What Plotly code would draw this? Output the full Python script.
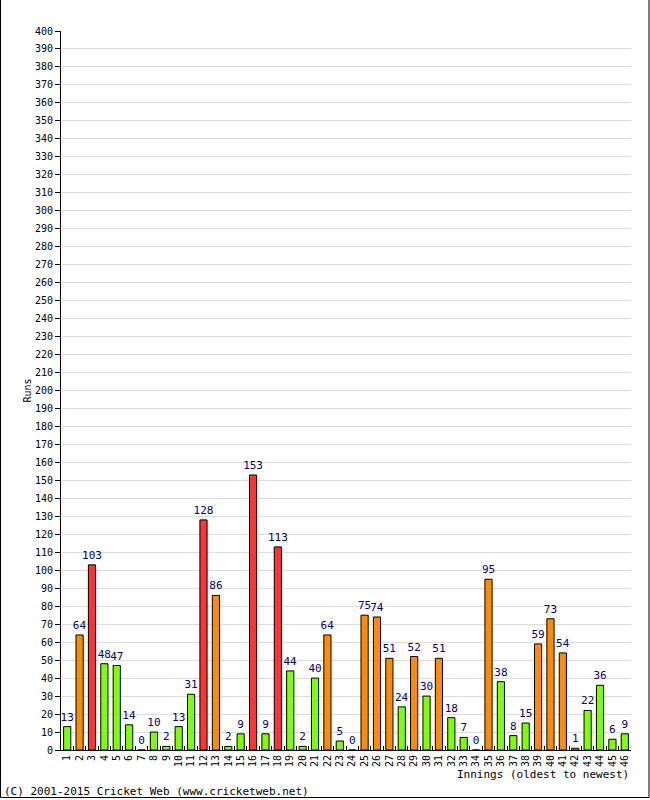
import plotly.graph_objects as go

innings = [str(i) for i in range(1, 47)]
runs = [13, 64, 103, 48, 47, 14, 0, 10, 2, 13, 31, 128, 86, 2, 9, 153, 9, 113, 44, 2,
        40, 64, 5, 0, 75, 74, 51, 24, 52, 30, 51, 18, 7, 0, 95, 38, 8, 15, 59, 73,
        54, 1, 22, 36, 6, 9]
y_ticks = list(range(0, 401, 10))


def bar_colour(v):
    if v >= 100:
        return "#FF3333"
    if v >= 50:
        return "#FF8C00"
    return "#80FF00"


colours = [bar_colour(v) for v in runs]

fig = go.Figure(go.Bar(
    x=innings, y=runs,
    marker=dict(color=colours, line=dict(color="black", width=1)),
    text=[str(v) for v in runs], textposition="outside", constraintext="none",
    textfont=dict(color="#000080", size=11, family="DejaVu Sans Mono"),
    cliponaxis=False,
))

fig.update_layout(
    width=650, height=800,
    margin=dict(l=61, r=19, t=31, b=50),
    plot_bgcolor="white", paper_bgcolor="white",
    bargap=0.42, showlegend=False,
    font=dict(family="DejaVu Sans Mono", size=10, color="black"),
)
fig.update_xaxes(
    type="category", tickangle=-90, showline=True, linecolor="black", linewidth=1,
    ticks="inside", tickson="boundaries", ticklen=4, tickcolor="black",
    showgrid=False, tickfont=dict(size=10, family="DejaVu Sans Mono"),
)
fig.update_yaxes(
    range=[0, 400], tickvals=y_ticks, ticktext=[str(v) for v in y_ticks],
    showline=True, linecolor="black", linewidth=1, ticks="outside", ticklen=5,
    tickcolor="black", showgrid=True, gridcolor="#DDDDDD", gridwidth=1,
    zeroline=False, tickfont=dict(size=10, family="DejaVu Sans Mono"),
)
fig.add_annotation(text="Runs", textangle=-90, xref="paper", yref="paper",
                   x=-0.058, y=0.5, xanchor="center", yanchor="middle", showarrow=False,
                   font=dict(size=10, family="DejaVu Sans Mono"))
fig.add_annotation(text="Innings (oldest to newest)", xref="paper", yref="paper",
                   x=1.0, y=-16/719, xanchor="right", yanchor="top", showarrow=False,
                   font=dict(size=11, family="DejaVu Sans Mono"))
fig.add_annotation(text="(C) 2001-2015 Cricket Web (www.cricketweb.net)", xref="paper", yref="paper",
                   x=-61/570 + 2/570, y=-50/719, xanchor="left", yanchor="bottom",
                   showarrow=False, font=dict(size=11, family="DejaVu Sans Mono"))
# outer frame
fig.add_shape(type="rect", xref="paper", yref="paper",
              x0=-60.5/570, x1=(570 + 18)/570, y0=-47.5/719, y1=(719 + 40)/719,
              line=dict(color="black", width=1), fillcolor="rgba(0,0,0,0)", layer="above")

fig.write_html("out.html")
